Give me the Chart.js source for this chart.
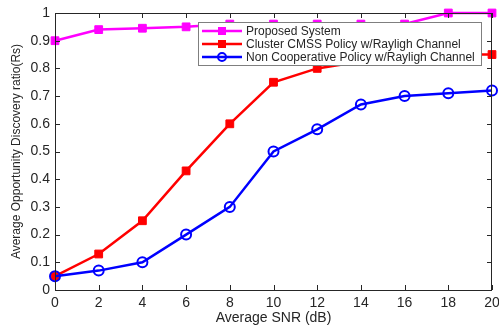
<!DOCTYPE html>
<html>
<head>
<meta charset="utf-8">
<script src="https://cdn.jsdelivr.net/npm/chart.js@4/dist/chart.umd.min.js"></script>
<style>
  html, body { margin: 0; padding: 0; background: #fff; }
  #wrap { width: 499px; height: 326px; }
</style>
</head>
<body>
<div id="wrap"><canvas id="chart" width="499" height="326"></canvas></div>
<script>
const snr = [0, 2, 4, 6, 8, 10, 12, 14, 16, 18, 20];
const proposed = [0.9, 0.94, 0.945, 0.95, 0.96, 0.96, 0.96, 0.96, 0.96, 1.0, 1.0];
const clusterCmss = [0.05, 0.13, 0.25, 0.43, 0.6, 0.75, 0.8, 0.825, 0.84, 0.85, 0.85];
const nonCoop = [0.05, 0.07, 0.1, 0.2, 0.3, 0.5, 0.58, 0.67, 0.7, 0.71, 0.72];
const xTicks = [0, 2, 4, 6, 8, 10, 12, 14, 16, 18, 20];
const yTicks = [0, 0.1, 0.2, 0.3, 0.4, 0.5, 0.6, 0.7, 0.8, 0.9, 1];
const seriesNames = ['Proposed System', 'Cluster CMSS Policy w/Rayligh Channel', 'Non Cooperative Policy w/Rayligh Channel'];

const FONT = 'Liberation Sans, Arial, sans-serif';
const TXT = '#262626';

function pts(vals) {
  return snr.map((x, i) => ({ x: x, y: vals[i] }));
}

// MATLAB-like box with inward ticks
const boxPlugin = {
  id: 'box',
  afterDatasetsDraw(chart) {
    const ctx = chart.ctx;
    const a = chart.chartArea;
    const xs = chart.scales.x;
    const ys = chart.scales.y;
    ctx.save();
    ctx.strokeStyle = TXT;
    ctx.lineWidth = 1;
    ctx.beginPath();
    ctx.rect(a.left + 0.5, a.top + 0.5, a.right - a.left - 1, a.bottom - a.top);
    xTicks.forEach(t => {
      const px = Math.round(xs.getPixelForValue(t)) + 0.5;
      ctx.moveTo(px, a.bottom); ctx.lineTo(px, a.bottom - 5);
      ctx.moveTo(px, a.top); ctx.lineTo(px, a.top + 5);
    });
    yTicks.forEach(t => {
      const py = Math.round(ys.getPixelForValue(t)) + 0.5;
      ctx.moveTo(a.left, py); ctx.lineTo(a.left + 5, py);
      ctx.moveTo(a.right, py); ctx.lineTo(a.right - 5, py);
    });
    ctx.stroke();
    ctx.restore();
  }
};

const legendPlugin = {
  id: 'boxLegend',
  afterDraw(chart) {
    const ctx = chart.ctx;
    const x0 = 198, y0 = 22, w = 283, h = 43;
    ctx.save();
    ctx.fillStyle = '#fff';
    ctx.fillRect(x0, y0, w, h);
    ctx.strokeStyle = '#7f7f7f';
    ctx.lineWidth = 1;
    ctx.strokeRect(x0 + 0.5, y0 + 0.5, w, h);
    ctx.font = '12px ' + FONT;
    ctx.textBaseline = 'middle';
    chart.data.datasets.forEach((ds, i) => {
      const y = y0 + 9 + i * 13;
      ctx.strokeStyle = ds.borderColor;
      ctx.lineWidth = 2.5;
      ctx.beginPath();
      ctx.moveTo(x0 + 4, y); ctx.lineTo(x0 + 44, y);
      ctx.stroke();
      if (ds.pointStyle === 'circle') {
        ctx.lineWidth = 2;
        ctx.beginPath();
        ctx.arc(x0 + 24, y, 4, 0, Math.PI * 2);
        ctx.stroke();
      } else {
        ctx.fillStyle = ds.borderColor;
        ctx.fillRect(x0 + 20, y - 4, 8, 8);
      }
      ctx.fillStyle = TXT;
      ctx.fillText(ds.label, x0 + 48, y + 1);
    });
    ctx.restore();
  }
};

new Chart(document.getElementById('chart'), {
  type: 'scatter',
  data: {
    datasets: [
      {
        label: seriesNames[0],
        data: pts(proposed),
        showLine: true,
        borderColor: '#ff00ff',
        backgroundColor: '#ff00ff',
        borderWidth: 2.5,
        pointStyle: 'rect',
        pointRadius: 5.5,
        pointBorderWidth: 1,
        order: 3
      },
      {
        label: seriesNames[1],
        data: pts(clusterCmss),
        showLine: true,
        borderColor: '#ff0000',
        backgroundColor: '#ff0000',
        borderWidth: 2.5,
        pointStyle: 'rect',
        pointRadius: 5.5,
        pointBorderWidth: 1,
        order: 2
      },
      {
        label: seriesNames[2],
        data: pts(nonCoop),
        showLine: true,
        borderColor: '#0000ff',
        backgroundColor: 'rgba(0,0,0,0)',
        borderWidth: 2.5,
        pointStyle: 'circle',
        pointRadius: 5,
        pointBorderWidth: 2,
        order: 1
      }
    ]
  },
  options: {
    responsive: false,
    animation: false,
    clip: false,
    layout: { padding: { top: 13, right: 4, left: 9, bottom: 0 } },
    plugins: { legend: { display: false }, tooltip: { enabled: false } },
    scales: {
      x: {
        type: 'linear',
        min: 0, max: 20,
        afterBuildTicks: s => { s.ticks = xTicks.map(v => ({ value: v })); },
        afterFit: s => { s.height = 36; s.paddingLeft = 0; s.paddingRight = 0; },
        grid: { display: false, drawTicks: false },
        border: { display: false },
        ticks: { color: TXT, font: { family: FONT, size: 14 }, padding: 5, maxRotation: 0 },
        title: { display: true, text: 'Average SNR (dB)', color: TXT, font: { family: FONT, size: 14 }, padding: { top: 0, bottom: -1 } }
      },
      y: {
        min: 0, max: 1,
        afterBuildTicks: s => { s.ticks = yTicks.map(v => ({ value: v })); },
        afterFit: s => { s.width = 46; s.paddingTop = 0; s.paddingBottom = 0; },
        grid: { display: false, drawTicks: false },
        border: { display: false },
        ticks: { color: TXT, font: { family: FONT, size: 14 }, padding: 5, callback: v => String(Math.round(v * 10) / 10) },
        title: { display: true, text: 'Average Opportunity Discovery ratio(Rs)', color: TXT, font: { family: FONT, size: 12 }, padding: { top: 0, bottom: 2 } }
      }
    }
  },
  plugins: [boxPlugin, legendPlugin]
});
</script>
</body>
</html>
